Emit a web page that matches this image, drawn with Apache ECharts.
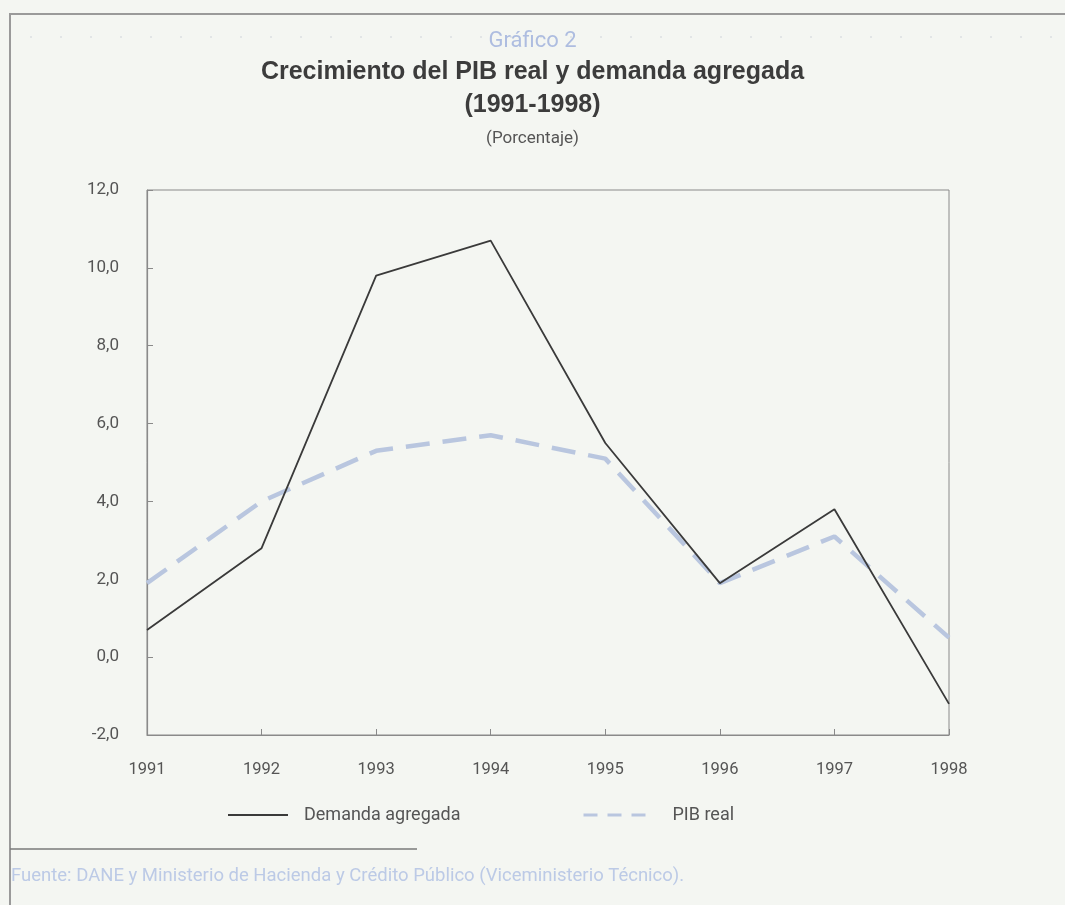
<!DOCTYPE html>
<html lang="es">
<head>
    <meta charset="UTF-8">
    <title>Gráfico 2 - Crecimiento del PIB real y demanda agregada</title>
    <script type="text/javascript" src="https://cdn.jsdelivr.net/npm/echarts@6/dist/echarts.min.js"></script>
    <style>
        html, body { margin: 0; padding: 0; background: #f4f6f2; }
    </style>
</head>
<body>
<div id="chart" style="width:1065px;height:905px;"></div>
<script type="text/javascript">
    // datos
    var years = ['1991', '1992', '1993', '1994', '1995', '1996', '1997', '1998'];
    var demanda = [0.7, 2.8, 9.8, 10.7, 5.5, 1.9, 3.8, -1.2];
    var pib = [1.9, 4.0, 5.3, 5.7, 5.1, 1.9, 3.1, 0.5];
    var nameDemanda = 'Demanda agregada';
    var namePib = 'PIB real';
    var fuente = 'Fuente: DANE y Ministerio de Hacienda y Crédito Público (Viceministerio Técnico).';

    var font = 'Roboto, "Liberation Sans", sans-serif';
    var fontTitle = '"Liberation Sans", Arial, sans-serif';

    var myChart = echarts.init(document.getElementById('chart'));

    var option = {
        backgroundColor: '#f4f6f2',
        animation: false,
        title: [{
            text: 'Gráfico 2',
            left: 'center',
            top: 25,
            textStyle: { fontFamily: font, fontWeight: 'normal', fontSize: 22, color: '#aebde0' }
        }, {
            text: 'Crecimiento del PIB real y demanda agregada',
            left: 'center',
            top: 55,
            textStyle: { fontFamily: fontTitle, fontWeight: 'bold', fontSize: 25, color: '#3c3c3c' }
        }, {
            text: '(1991-1998)',
            left: 'center',
            top: 88,
            textStyle: { fontFamily: fontTitle, fontWeight: 'bold', fontSize: 25, color: '#3c3c3c' }
        }, {
            text: '(Porcentaje)',
            left: 'center',
            top: 125,
            textStyle: { fontFamily: font, fontWeight: 'normal', fontSize: 17, color: '#555' }
        }],
        legend: [{
            left: 222,
            top: 801,
            data: [nameDemanda],
            itemWidth: 60,
            itemHeight: 14,
            itemStyle: { opacity: 0 },
            lineStyle: { color: '#3a3a3a', width: 2 },
            textStyle: { fontFamily: font, fontSize: 18, color: '#555', padding: [0, 0, 0, 11] }
        }, {
            left: 577,
            top: 801,
            data: [namePib],
            itemWidth: 62,
            itemHeight: 14,
            itemStyle: { opacity: 0 },
            lineStyle: { color: '#b9c6df', width: 3, type: [14, 10] },
            textStyle: { fontFamily: font, fontSize: 18, color: '#555', padding: [0, 0, 0, 22] }
        }],
        grid: {
            left: 147,
            right: 116,
            top: 190,
            bottom: 170,
            show: true,
            borderColor: '#8a8a8a',
            borderWidth: 1,
            backgroundColor: 'transparent'
        },
        xAxis: {
            type: 'category',
            data: years,
            boundaryGap: false,
            axisLine: { onZero: false, lineStyle: { color: '#8a8a8a', width: 1.2 } },
            axisTick: { show: true, inside: true, length: 6, lineStyle: { color: '#8a8a8a' } },
            axisLabel: { margin: 26, fontFamily: font, fontSize: 16.5, color: '#555' },
            splitLine: { show: false }
        },
        yAxis: {
            type: 'value',
            min: -2,
            max: 12,
            interval: 2,
            axisLine: { show: true, lineStyle: { color: '#8a8a8a', width: 1.2 } },
            axisTick: { show: true, inside: true, length: 6, lineStyle: { color: '#8a8a8a' } },
            axisLabel: {
                margin: 28,
                fontFamily: font,
                fontSize: 17,
                color: '#555',
                formatter: function (v) {
                    return v.toFixed(1).replace('.', ',');
                }
            },
            splitLine: { show: false }
        },
        series: [{
            name: namePib,
            type: 'line',
            data: pib,
            symbol: 'none',
            z: 2,
            lineStyle: { color: '#b9c6df', width: 4.5, type: [24, 13] },
            itemStyle: { color: '#b9c6df' }
        }, {
            name: nameDemanda,
            type: 'line',
            data: demanda,
            symbol: 'none',
            z: 3,
            lineStyle: { color: '#3a3a3a', width: 1.8 },
            itemStyle: { color: '#3a3a3a' }
        }],
        graphic: [{
            // marco de la pagina
            type: 'polyline',
            shape: { points: [[10, 905], [10, 14], [1065, 14]] },
            style: { stroke: '#9a9a9a', lineWidth: 2, fill: null }
        }, {
            // linea punteada tenue detras del subtitulo
            type: 'line',
            z: -1,
            shape: { x1: 30, y1: 37, x2: 1065, y2: 37 },
            style: { stroke: '#e2e5e6', lineWidth: 2, lineDash: [2, 28] }
        }, {
            type: 'line',
            shape: { x1: 10, y1: 849, x2: 417, y2: 849 },
            style: { stroke: '#7a7a7a', lineWidth: 1.5 }
        }, {
            type: 'text',
            left: 11,
            top: 867,
            style: { text: fuente, fontFamily: font, fontSize: 18.5, fill: '#bccae6' }
        }]
    };
    myChart.setOption(option);
</script>
</body>
</html>
